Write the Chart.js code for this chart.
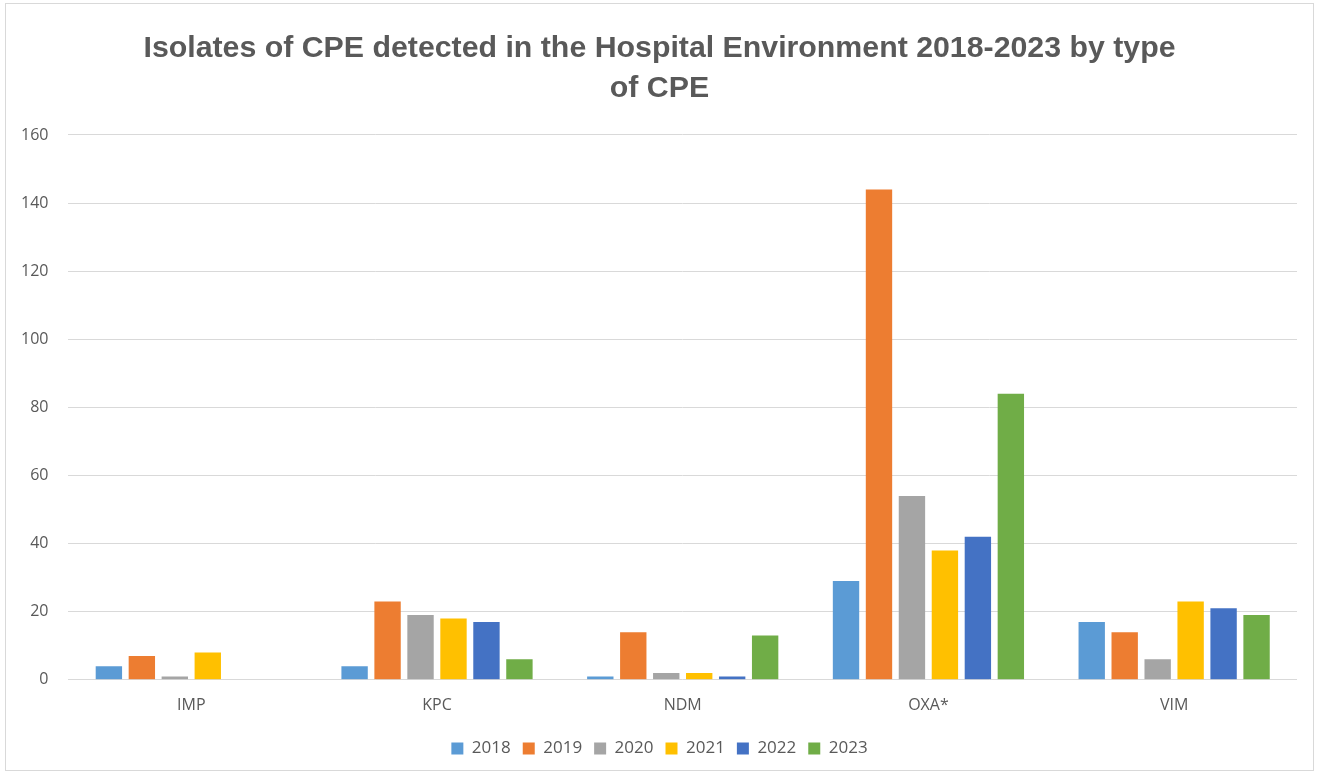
<!DOCTYPE html>
<html>
<head>
<meta charset="utf-8">
<script src="https://cdn.jsdelivr.net/npm/chart.js@4"></script>
<style>
html,body{margin:0;padding:0;background:#fff;}
#wrap{position:absolute;left:5px;top:3px;width:1309px;height:768px;border:1px solid #d9d9d9;box-sizing:border-box;}
canvas{display:block;}
</style>
</head>
<body>
<div id="wrap"><canvas id="c"></canvas></div>
<script>
const categories = ["IMP", "KPC", "NDM", "OXA*", "VIM"];
const years = ["2018", "2019", "2020", "2021", "2022", "2023"];
const v2018 = [4, 4, 1, 29, 17];
const v2019 = [7, 23, 14, 144, 14];
const v2020 = [1, 19, 2, 54, 6];
const v2021 = [8, 18, 2, 38, 23];
const v2022 = [0, 17, 1, 42, 21];
const v2023 = [0, 6, 13, 84, 19];
const yTicks = [0, 20, 40, 60, 80, 100, 120, 140, 160];
const colors = ["#5b9bd5", "#ed7d31", "#a5a5a5", "#ffc000", "#4472c4", "#70ad47"];
const seriesValues = [v2018, v2019, v2020, v2021, v2022, v2023];

const textColor = "#595959";

new Chart(document.getElementById("c"), {
  type: "bar",
  data: {
    labels: categories,
    datasets: years.map((y, i) => ({
      label: y,
      data: seriesValues[i],
      backgroundColor: colors[i],
      borderWidth: 0,
      barPercentage: 0.8,
      categoryPercentage: 0.805
    }))
  },
  options: {
    responsive: true,
    maintainAspectRatio: false,
    animation: false,
    layout: { padding: { left: 8, right: 8, top: 14, bottom: 3 } },
    plugins: {
      title: {
        display: true,
        text: ["Isolates of CPE detected in the Hospital Environment 2018-2023 by type", "of CPE"],
        color: textColor,
        font: { family: "'Liberation Sans Narrow', sans-serif", size: 30.3, weight: "bold", lineHeight: 1.32 },
        padding: { top: 11, bottom: 26 }
      },
      legend: {
        position: "bottom",
        labels: {
          color: textColor,
          font: { family: "'Open Sans', sans-serif", size: 17 },
          boxWidth: 12,
          boxHeight: 12,
          padding: 12
        }
      },
      tooltip: { enabled: false }
    },
    scales: {
      x: {
        grid: { display: false },
        border: { display: false },
        ticks: { color: textColor, font: { family: "'Open Sans', sans-serif", size: 16 }, padding: 8 },
        afterFit: (axis) => { axis.height += 5; }
      },
      y: {
        min: 0,
        max: 160,
        afterBuildTicks: (axis) => { axis.ticks = yTicks.map(v => ({ value: v })); },
        grid: { color: "#d9d9d9", lineWidth: 1, drawTicks: false },
        border: { display: false },
        ticks: { color: textColor, font: { family: "'Open Sans', sans-serif", size: 16 }, padding: 20 },
        afterFit: (axis) => { axis.width -= 13; }
      },
      y2: {
        position: "right",
        display: true,
        grid: { display: false },
        border: { display: false },
        ticks: { display: false },
        afterFit: (axis) => { axis.width = 8; }
      }
    }
  }
});
</script>
</body>
</html>
